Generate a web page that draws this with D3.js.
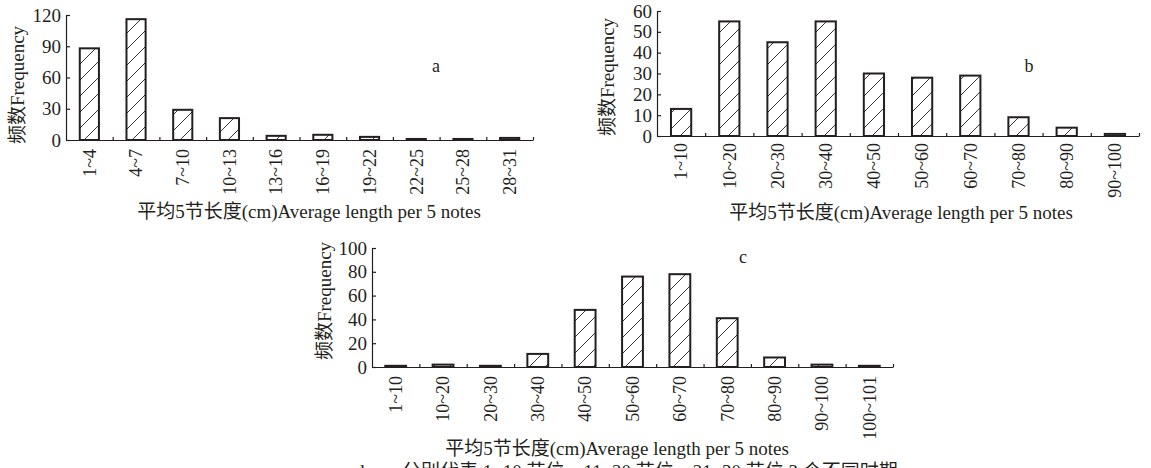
<!DOCTYPE html>
<html>
<head>
<meta charset="utf-8">
<script src="https://cdn.jsdelivr.net/npm/d3@7"></script>
<style>
  body { margin: 0; background: #fff; }
  text { font-family: "Liberation Serif", "Noto Sans CJK SC", serif; fill: #231f20; }
</style>
</head>
<body>
<div id="chart"></div>
<script>
// datos

const catsA = ["1~4", "4~7", "7~10", "10~13", "13~16", "16~19", "19~22", "22~25", "25~28", "28~31"]
const valsA = [88, 116, 29, 21, 4, 5, 3, 1, 1, 2]
const ticksA = [0, 30, 60, 90, 120]

const catsB = ["1~10", "10~20", "20~30", "30~40", "40~50", "50~60", "60~70", "70~80", "80~90", "90~100"]
const valsB = [13, 55, 45, 55, 30, 28, 29, 9, 4, 1]
const ticksB = [0, 10, 20, 30, 40, 50, 60]

const catsC = ["1~10", "10~20", "20~30", "30~40", "40~50", "50~60", "60~70", "70~80", "80~90", "90~100", "100~101"]
const valsC = [1, 2, 1, 11, 48, 76, 78, 41, 8, 2, 1]
const ticksC = [0, 20, 40, 60, 80, 100]

const xTitle = "平均5节长度(cm)Average length per 5 notes"
const yTitle = "频数Frequency"

const width = 1151
const height = 468
const ink = "#231f20"

const svg = d3.select("#chart").append("svg").attr("width", width).attr("height", height)

// trama de rayas
svg.append("defs").append("pattern")
    .attr("id", "hatch")
    .attr("patternUnits", "userSpaceOnUse")
    .attr("width", 16).attr("height", 16)
  .append("path")
    .attr("d", "M0,16 L16,0 M-4,4 L4,-4 M12,20 L20,12")
    .attr("stroke", ink)
    .attr("stroke-width", 0.9)

// paneles
const panels = [
    {cats: catsA, vals: valsA, ticks: ticksA, x0: 66, x1: 533, y0: 140, y1: 15, pad: 0.59,
     tag: "a", tagX: 436, tagY: 72, titleX: 309, titleY: 218, ylX: 17, ylY: 85, lab: 9},
    {cats: catsB, vals: valsB, ticks: ticksB, x0: 657, x1: 1139, y0: 136, y1: 11, pad: 0.58,
     tag: "b", tagX: 1029, tagY: 72, titleX: 901, titleY: 219, ylX: 607, ylY: 77, lab: 7},
    {cats: catsC, vals: valsC, ticks: ticksC, x0: 372, x1: 893, y0: 367, y1: 248, pad: 0.56,
     tag: "c", tagX: 743, tagY: 263, titleX: 617, titleY: 455, ylX: 324, ylY: 301, lab: 9}
]

panels.forEach(p => {
    const g = svg.append("g")
    const x = d3.scaleBand().domain(p.cats).range([p.x0, p.x1]).paddingInner(p.pad).paddingOuter(p.pad / 2)
    const y = d3.scaleLinear().domain([0, d3.max(p.ticks)]).range([p.y0, p.y1])
    const xb = d3.scaleLinear().domain([0, p.cats.length]).range([p.x0, p.x1])

    // barras
    g.selectAll("rect").data(p.vals)
        .join("rect")
            .attr("x", (d, i) => x(p.cats[i]))
            .attr("y", d => y(d))
            .attr("width", x.bandwidth())
            .attr("height", d => p.y0 - y(d))
            .attr("fill", "url(#hatch)")
            .attr("stroke", ink)
            .attr("stroke-width", 2)

    // eje x: marcas en los limites de clase
    const xAxisGroup = g.append("g").attr("transform", `translate(0,${p.y0})`)
        .call(d3.axisBottom(xb).tickValues(d3.range(1, p.cats.length + 1)).tickSizeInner(-3).tickSizeOuter(0).tickFormat(""))
    xAxisGroup.selectAll("path, line").attr("stroke", ink).attr("stroke-width", 1.2)

    // etiquetas de categoria
    g.selectAll("text.cat").data(p.cats)
        .join("text")
            .attr("class", "cat")
            .attr("transform", d => `translate(${x(d) + x.bandwidth() / 2},${p.y0 + p.lab}) rotate(-90)`)
            .attr("text-anchor", "end")
            .attr("dy", "0.35em")
            .style("font-size", "18px")
            .text(d => d)

    // eje y
    const yAxisGroup = g.append("g").attr("transform", `translate(${p.x0},0)`)
        .call(d3.axisLeft(y).tickValues(p.ticks).tickSizeInner(-4).tickSizeOuter(0).tickPadding(5))
    yAxisGroup.selectAll("path, line").attr("stroke", ink).attr("stroke-width", 1.2)
    yAxisGroup.selectAll("text")
        .style("font-size", "19px")
        .style("font-family", "Liberation Serif, serif")
        .attr("fill", ink)

    // titulos
    g.append("text")
        .attr("transform", `translate(${p.ylX},${p.ylY}) rotate(-90)`)
        .attr("text-anchor", "middle")
        .attr("dy", "0.35em")
        .style("font-size", "19px")
        .text(yTitle)

    g.append("text")
        .attr("x", p.titleX).attr("y", p.titleY)
        .attr("text-anchor", "middle")
        .style("font-size", "19px")
        .text(xTitle)

    g.append("text")
        .attr("x", p.tagX).attr("y", p.tagY)
        .attr("text-anchor", "middle")
        .style("font-size", "18px")
        .text(p.tag)
})

// pie de figura (cortado en el borde inferior, como en la imagen)
svg.append("text")
    .attr("x", 333).attr("y", 478)
    .style("font-size", "19px")
    .text("a、b、c 分别代表 1~10 节位、11~20 节位、21~30 节位 3 个不同时期")
</script>
</body>
</html>
